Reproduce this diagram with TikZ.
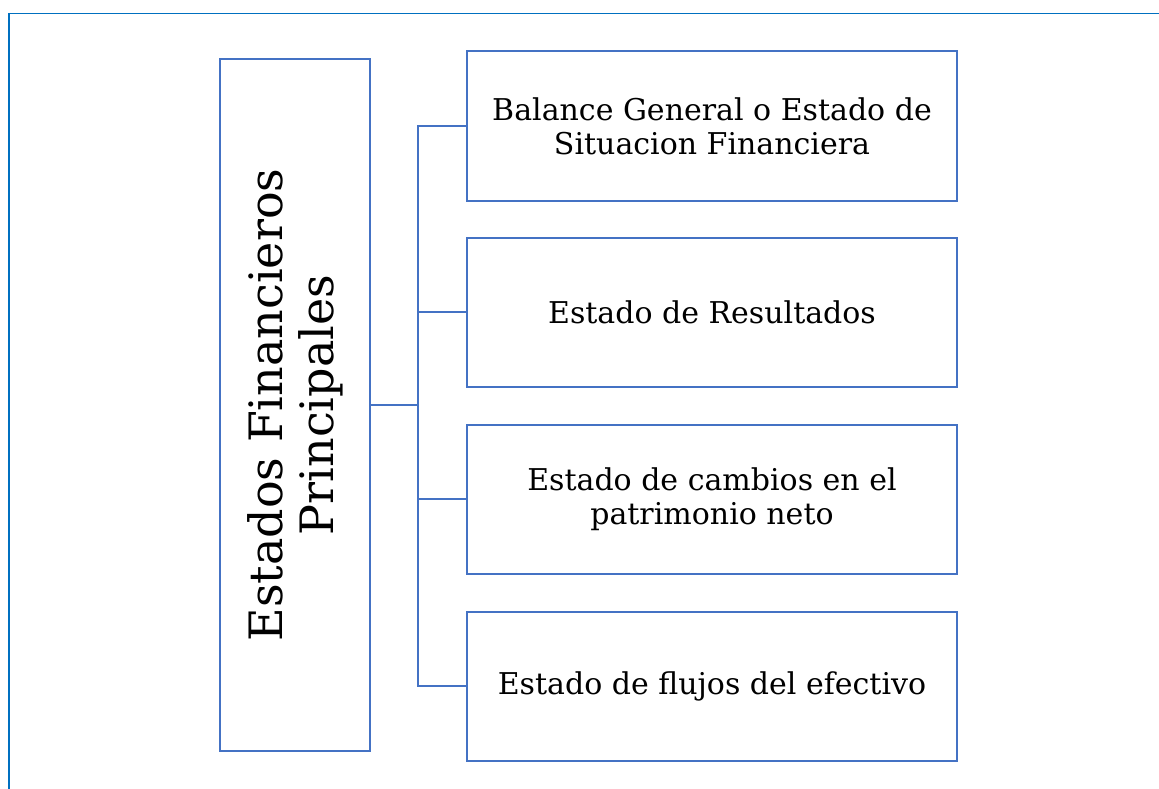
\documentclass[tikz,border=0pt]{standalone}
\usepackage{fontspec}
\setmainfont{DejaVu Serif}
\usetikzlibrary{calc}
\definecolor{boxblue}{HTML}{4472C4}
\definecolor{frameblue}{HTML}{0070C0}
\tikzset{
  itembox/.style={draw=boxblue, line width=2pt, minimum width=490pt, minimum height=149pt,
    align=center, inner sep=0pt, font=\fontsize{30}{33.7}\selectfont},
  titlebox/.style={draw=boxblue, line width=2pt, rotate=90, minimum width=691pt, minimum height=150pt,
    align=center, inner sep=0pt, font=\fontsize{46}{51}\selectfont},
  conn/.style={draw=boxblue, line width=2pt},
  frameline/.style={draw=frameblue}
}
\begin{document}
\begin{tikzpicture}[x=1pt,y=-1pt]
\useasboundingbox (0,0) rectangle (1159,789);
\coordinate (fa) at (8,13.5);
\coordinate (fb) at (1159,13.5);
\coordinate (fc) at (9,789);
\draw[frameline, line width=1.2pt] (fa) -- (fb);
\draw[frameline, line width=2pt] (9,13) -- (fc);
\node[titlebox] (lbox) at (295,405) {Estados Financieros\\Principales};
\node[itembox] (b1) at (712,126) {Balance General o Estado de\\Situacion Financiera};
\node[itembox] (b2) at (712,312) {Estado de Resultados};
\node[itembox] (b3) at (712,499) {Estado de cambios en el\\patrimonio neto};
\node[itembox] (b4) at (712,686) {Estado de flujos del efectivo};
\coordinate (tr) at (418,405);
\draw[conn] (b1.west) -| (tr) |- (b4.west);
\draw[conn] (lbox.south) -- (tr);
\draw[conn] (b2.west) -- (b2.west -| tr);
\draw[conn] (b3.west) -- (b3.west -| tr);
\end{tikzpicture}
\end{document}
